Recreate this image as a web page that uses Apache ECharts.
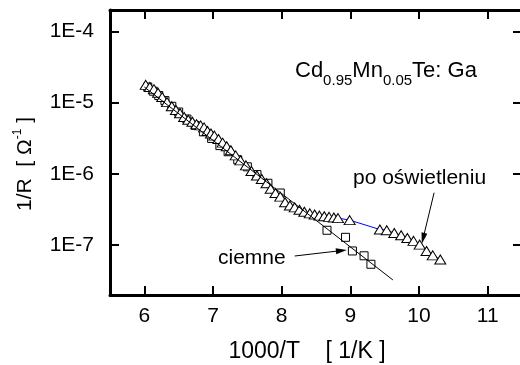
<!DOCTYPE html>
<html>
<head>
<meta charset="utf-8">
<title>1/R vs 1000/T</title>
<script src="https://cdn.jsdelivr.net/npm/echarts@6/dist/echarts.min.js"></script>
<style>
  html, body { margin: 0; padding: 0; background: #fff; overflow: hidden; }
  /* a bit wider than the window: the right frame of the original sits just off the edge */
  #main { width: 525px; height: 365px; }
</style>
</head>
<body>
<div id="main"></div>
<script>
// po oświetleniu (triangles): 1000/T [1/K] and 1/R [1/Ohm]
var lightX = [6.02, 6.08, 6.14, 6.20, 6.26, 6.33, 6.40, 6.46, 6.52, 6.58, 6.64, 6.70, 6.76, 6.82,
  6.87, 6.92, 6.97, 7.02, 7.08, 7.14, 7.20, 7.26, 7.33, 7.40, 7.48, 7.56, 7.64, 7.71, 7.78, 7.84,
  7.91, 7.98, 8.05, 8.12, 8.19, 8.26, 8.33, 8.41, 8.48, 8.55, 8.62, 8.69, 8.76, 8.82, 8.99,
  9.43, 9.53, 9.64, 9.74, 9.83, 9.92, 10.01, 10.11, 10.20, 10.31];
var lightY = [1.78e-5, 1.66e-5, 1.55e-5, 1.38e-5, 1.20e-5, 1.02e-5, 8.9e-6, 7.9e-6, 7.1e-6, 6.3e-6,
  5.75e-6, 5.4e-6, 5.0e-6, 4.8e-6, 4.5e-6, 4.0e-6, 3.7e-6, 3.45e-6, 3.1e-6, 2.75e-6, 2.45e-6,
  2.15e-6, 1.82e-6, 1.55e-6, 1.32e-6, 1.10e-6, 9.5e-7, 8.5e-7, 7.4e-7, 6.2e-7, 5.4e-7, 4.8e-7,
  4.0e-7, 3.6e-7, 3.4e-7, 3.15e-7, 2.95e-7, 2.8e-7, 2.7e-7, 2.6e-7, 2.55e-7, 2.5e-7, 2.45e-7,
  2.4e-7, 2.25e-7, 1.66e-7, 1.62e-7, 1.48e-7, 1.38e-7, 1.26e-7, 1.15e-7, 1.02e-7, 8.3e-8,
  7.2e-8, 6.3e-8];

// ciemne (squares)
var darkX = [6.05, 6.13, 6.21, 6.30, 6.40, 6.50, 6.62, 6.74, 6.86, 6.98, 7.10, 7.22, 7.36, 7.50,
  7.64, 7.80, 7.98, 8.66, 8.93, 9.03, 9.20, 9.30];
var darkY = [1.66e-5, 1.45e-5, 1.26e-5, 1.07e-5, 8.9e-6, 7.4e-6, 5.9e-6, 4.8e-6, 3.9e-6, 3.15e-6,
  2.5e-6, 2.05e-6, 1.58e-6, 1.26e-6, 9.8e-7, 7.4e-7, 5.4e-7, 1.62e-7, 1.29e-7, 8.3e-8, 7.1e-8,
  5.4e-8];

// straight fit through the dark points
var fitX = [6.0, 9.62];
var fitY = [1.66e-5, 3.25e-8];

var xTicks = [6, 7, 8, 9, 10, 11];
var yTicks = [1e-7, 1e-6, 1e-5, 1e-4];

// arrows: [from, to] in data units
var arrowDark = [[8.19, 7.05e-8], [8.87, 8.4e-8]];
var arrowLight = [[10.22, 5.45e-7], [10.06, 1.25e-7]];

var FONT = '"Liberation Sans", Arial, sans-serif';

function zip(xs, ys) {
  return xs.map(function (x, i) { return [x, ys[i]]; });
}

var chart = echarts.init(document.getElementById('main'), null, { renderer: 'canvas' });

function xAxisCfg(pos, showLabel) {
  return {
    type: 'value',
    position: pos,
    min: 5.5,
    max: 11.5,
    splitNumber: 6,
    axisLine: { show: true, onZero: false, lineStyle: { color: '#000', width: 3 } },
    axisTick: { show: true, inside: true, length: 9, lineStyle: { color: '#000', width: 2 } },
    axisLabel: {
      show: showLabel,
      margin: 11,
      fontSize: 21,
      fontFamily: FONT,
      color: '#000',
      formatter: function (v) { return xTicks.indexOf(v) >= 0 ? String(v) : ''; }
    },
    splitLine: { show: false }
  };
}

function yAxisCfg(pos, showLabel) {
  return {
    type: 'log',
    logBase: 10,
    position: pos,
    min: 2e-8,
    max: 2e-4,
    axisLine: { show: true, onZero: false, lineStyle: { color: '#000', width: 3 } },
    axisTick: { show: true, inside: true, length: 9, lineStyle: { color: '#000', width: 2 } },
    minorTick: { show: false },
    axisLabel: {
      show: showLabel,
      margin: 16,
      fontSize: 21,
      fontFamily: FONT,
      color: '#000',
      formatter: function (v) {
        for (var i = 0; i < yTicks.length; i++) {
          if (Math.abs(v / yTicks[i] - 1) < 1e-6) {
            return '1E' + Math.round(Math.log10(yTicks[i]));
          }
        }
        return '';
      }
    },
    splitLine: { show: false }
  };
}

var option = {
  backgroundColor: '#fff',
  animation: false,
  grid: { left: 110, right: 3, top: 10, bottom: 70 },
  xAxis: [xAxisCfg('bottom', true), xAxisCfg('top', false)],
  yAxis: [yAxisCfg('left', true), yAxisCfg('right', false)],
  series: [
    {
      name: 'ciemne',
      type: 'line',
      data: zip(darkX, darkY),
      lineStyle: { width: 0, opacity: 0 },
      symbol: 'rect',
      symbolSize: 8,
      itemStyle: { color: '#fff', borderColor: '#000', borderWidth: 1 },
      z: 2
    },
    {
      name: 'po oświetleniu',
      type: 'line',
      data: zip(lightX, lightY),
      lineStyle: { width: 1, color: '#0000ff' },
      symbol: 'triangle',
      symbolSize: [11, 9],
      showAllSymbol: true,
      itemStyle: { color: '#fff', borderColor: '#000', borderWidth: 1 },
      z: 3
    },
    {
      name: 'fit',
      type: 'line',
      data: zip(fitX, fitY),
      symbol: 'none',
      lineStyle: { width: 1, color: '#000' },
      z: 4,
      markLine: {
        silent: true,
        symbol: ['none', 'triangle'],
        symbolSize: [6, 11],
        label: { show: false },
        lineStyle: { color: '#000', width: 1, type: 'solid' },
        itemStyle: { color: '#000' },
        data: [
          [{ coord: arrowDark[0] }, { coord: arrowDark[1] }],
          [{ coord: arrowLight[0] }, { coord: arrowLight[1] }]
        ]
      }
    }
  ],
  graphic: [
    {
      type: 'text',
      x: 25, y: 164,
      rotation: Math.PI / 2,
      style: {
        text: '{m|1/R  [ Ω}{s|-1}{m| ]}',
        align: 'center', verticalAlign: 'middle',
        textAlign: 'center', textVerticalAlign: 'middle',
        fill: '#000',
        rich: {
          m: { fontSize: 21, fontFamily: FONT, fill: '#000' },
          s: { fontSize: 12, fontFamily: FONT, fill: '#000', padding: [0, 0, 14, 0] }
        }
      }
    },
    {
      type: 'text',
      x: 307, y: 352,
      style: {
        text: '1000/T    [ 1/K ]',
        fontSize: 23, fontFamily: FONT, fill: '#000',
        align: 'center', verticalAlign: 'middle',
        textAlign: 'center', textVerticalAlign: 'middle'
      }
    },
    {
      type: 'text',
      x: 295, y: 71,
      style: {
        text: '{m|Cd}{s|0.95}{m|Mn}{s|0.05}{m|Te: Ga}',
        align: 'left', verticalAlign: 'middle',
        textAlign: 'left', textVerticalAlign: 'middle',
        fill: '#000',
        rich: {
          m: { fontSize: 22, fontFamily: FONT, fill: '#000' },
          s: { fontSize: 15, fontFamily: FONT, fill: '#000', padding: [19, 0, 0, 0] }
        }
      }
    },
    {
      type: 'text',
      x: 353, y: 178,
      style: {
        text: 'po oświetleniu',
        fontSize: 21, fontFamily: FONT, fill: '#000',
        align: 'left', verticalAlign: 'middle',
        textAlign: 'left', textVerticalAlign: 'middle'
      }
    },
    {
      type: 'text',
      x: 218, y: 258,
      style: {
        text: 'ciemne',
        fontSize: 21, fontFamily: FONT, fill: '#000',
        align: 'left', verticalAlign: 'middle',
        textAlign: 'left', textVerticalAlign: 'middle'
      }
    }
  ]
};

chart.setOption(option);
window.addEventListener('resize', chart.resize);
</script>
</body>
</html>
